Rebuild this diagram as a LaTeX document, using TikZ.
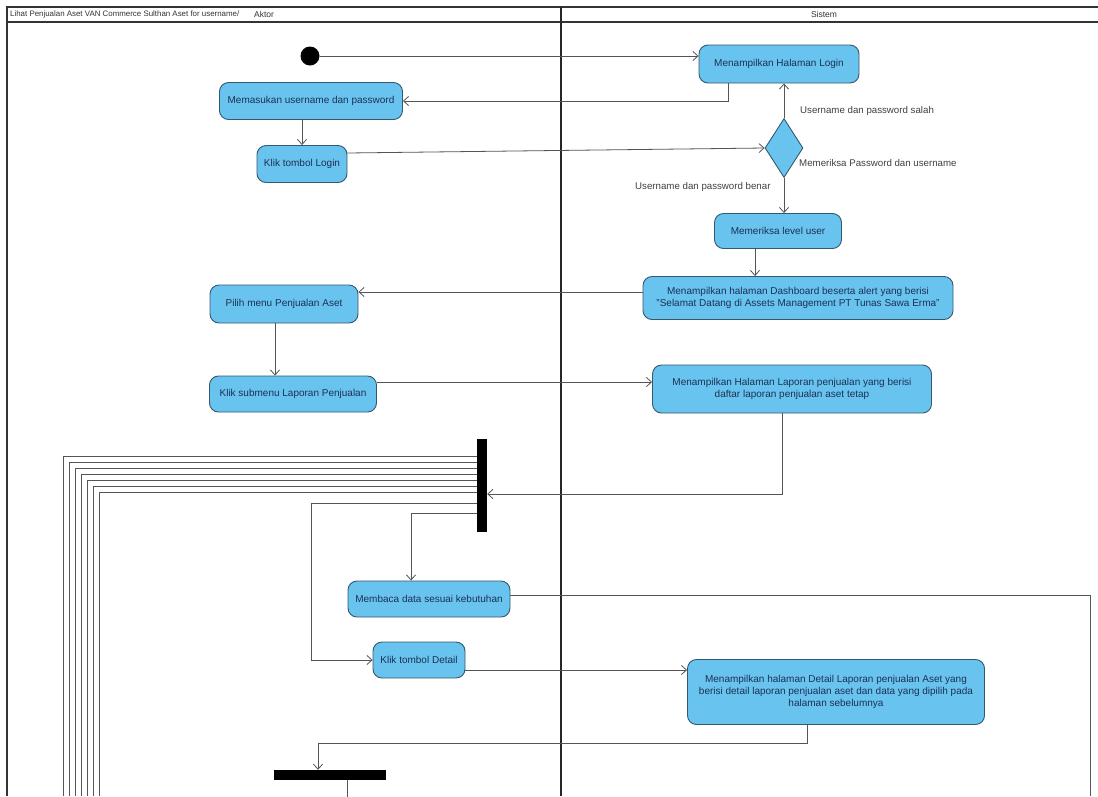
\documentclass[tikz,border=0pt]{standalone}
\usepackage{fontspec}
\setmainfont{Liberation Sans}
\usetikzlibrary{arrows.meta,calc,shapes.geometric}
\definecolor{actfill}{RGB}{104,196,238}
\definecolor{actdraw}{RGB}{52,88,112}
\definecolor{acttext}{RGB}{28,48,86}
\definecolor{linec}{RGB}{85,85,85}
\begin{document}
\begin{tikzpicture}[x=1pt,y=-1pt,
  act/.style={draw=actdraw,fill=actfill,rounded corners=9pt,line width=0.9pt,text=acttext,
    font=\fontsize{10}{12}\selectfont,align=center,inner sep=0pt},
  lbl/.style={font=\fontsize{9.7}{11}\selectfont,text=black!75,inner sep=0pt},
  hdr/.style={font=\fontsize{8.5}{10}\selectfont,text=black!80,inner sep=0pt},
  flow/.style={draw=linec,line width=0.8pt,-{Straight Barb[length=5pt,width=9pt]}},
  wire/.style={draw=linec,line width=0.8pt},
  bar/.style={fill=black,draw=none,inner sep=0pt}]
\fill[white] (0,0) rectangle (1098,796);
\useasboundingbox (0,0) rectangle (1098,796);
% frame and swimlanes
\draw[line width=1.2pt,black!80] (7,796) -- (7,7) -- (1098,7);
\draw[line width=1.8pt,black!80] (7,22) -- (1098,22);
\draw[line width=1.5pt,black!85] (561,7) -- (561,796);
\node[hdr,anchor=west,font=\fontsize{7.9}{9}\selectfont] (title) at (10,14) {Lihat Penjualan Aset VAN Commerce Sulthan Aset for username/};
\node[hdr,anchor=west] (aktor) at (254,14) {Aktor};
\node[hdr] (sistem) at (824,14) {Sistem};
% nodes
\node[circle,fill=black,minimum size=19pt,inner sep=0pt] (init) at (310,56) {};
\node[act,minimum width=160pt,minimum height=38pt] (login) at (779,64) {Menampilkan Halaman Login};
\node[act,minimum width=183pt,minimum height=37pt] (masuk) at (311,101) {Memasukan username dan password};
\node[act,minimum width=90pt,minimum height=37pt] (klik) at (302,164) {Klik tombol Login};
\node[diamond,draw=actdraw,fill=actfill,line width=0.9pt,minimum width=38pt,minimum height=59pt,inner sep=0pt] (dec) at (784,148) {};
\node[act,minimum width=127pt,minimum height=35pt] (level) at (778,231) {Memeriksa level user};
\node[act,minimum width=310pt,minimum height=43pt] (dash) at (798,298) {Menampilkan halaman Dashboard beserta alert yang berisi\\"Selamat Datang di Assets Management PT Tunas Sawa Erma"};
\node[act,minimum width=148pt,minimum height=38pt] (pilih) at (284,304) {Pilih menu Penjualan Aset};
\node[act,minimum width=167pt,minimum height=36pt] (sub) at (293,394) {Klik submenu Laporan Penjualan};
\node[act,minimum width=279pt,minimum height=48pt] (lap) at (792,389) {Menampilkan Halaman Laporan penjualan yang berisi\\daftar laporan penjualan aset tetap};
\node[bar,minimum width=10pt,minimum height=93pt] (fork) at (482,485) {};
\node[act,minimum width=162pt,minimum height=36pt] (baca) at (429,599) {Membaca data sesuai kebutuhan};
\node[act,minimum width=92pt,minimum height=36pt] (det) at (419,660) {Klik tombol Detail};
\node[act,minimum width=297pt,minimum height=65pt] (detail) at (836,692) {Menampilkan halaman Detail Laporan penjualan Aset yang\\berisi detail laporan penjualan aset dan data yang dipilih pada\\halaman sebelumnya};
\node[bar,minimum width=112pt,minimum height=10pt] (join) at (330,775) {};
% labels
\node[lbl,anchor=west] (lsalah) at (800,111) {Username dan password salah};
\node[lbl,anchor=west] (lcek) at (799,163) {Memeriksa Password dan username};
\node[lbl,anchor=west] (lbenar) at (635,187) {Username dan password benar};
% connectors
\draw[flow] (init.east) -- (init.east -| login.west);
\draw[flow] ([xshift=-51pt]login.south) |- (masuk.east);
\draw[flow] (klik.north |- masuk.south) -- (klik.north);
\draw[flow] ($(klik.east)+(0,-11)$) -- (dec.west);
\draw[flow] (dec.north) -- (dec.north |- login.south);
\draw[flow] (dec.south) -- (dec.south |- level.north);
\draw[flow] ([xshift=-23pt]level.south) -- ([xshift=-23pt]level.south |- dash.north);
\coordinate (dp) at ($(dash.west)+(0,-6)$);
\draw[flow] (dp) -- (dp -| pilih.east);
\draw[flow] ([xshift=-9pt]pilih.south) -- ([xshift=-9pt]pilih.south |- sub.north);
\coordinate (sp) at ($(sub.east)+(0,-12)$);
\draw[flow] (sp) -- (sp -| lap.west);
\coordinate (fi) at ($(fork.east)+(0,9)$);
\draw[flow] ([xshift=-10pt]lap.south) |- (fi);
\foreach \i in {0,...,6} {
  \draw[wire] ($(fork.west)+(0,{-29+6*\i})$) -| ({63+6*\i},796);
}
\draw[flow] ($(fork.west)+(0,18)$) -- ++(-165,0) |- (det.west);
\draw[flow] ($(fork.west)+(0,28)$) -| ([xshift=-18pt]baca.north);
\draw[wire] ($(baca.east)+(0,-4)$) -| (1090,796);
\coordinate (dq) at ($(det.east)+(0,10)$);
\draw[flow] (dq) -- (dq -| detail.west);
\draw[flow] ([xshift=-29pt]detail.south) -- ++(0,18) -| ([xshift=-12pt]join.north);
\draw[wire] ([xshift=17pt]join.south) -- ++(0,20);
\end{tikzpicture}
\end{document}
